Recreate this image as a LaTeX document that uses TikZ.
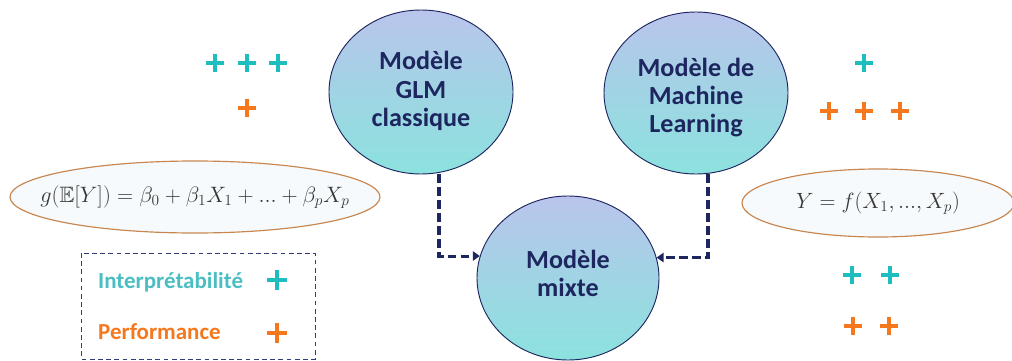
\documentclass[tikz,border=0pt]{standalone}
\usepackage{fontspec}
\usepackage{amssymb}
\usepackage{graphicx}
\setmainfont{Carlito}
\usetikzlibrary{shapes.geometric,arrows.meta}

\definecolor{navy}{RGB}{30,38,95}
\definecolor{ctop}{RGB}{186,196,236}
\definecolor{cmid}{RGB}{160,212,228}
\definecolor{cbot}{RGB}{140,226,222}
\definecolor{tealp}{RGB}{30,190,190}
\definecolor{tealt}{RGB}{75,190,195}
\definecolor{orangep}{RGB}{245,120,30}
\definecolor{ebord}{RGB}{200,135,80}
\definecolor{efill}{RGB}{246,250,252}
\definecolor{fgray}{RGB}{55,55,55}
\definecolor{boxline}{RGB}{50,60,120}

\tikzset{
  model/.style={ellipse, draw=navy, line width=0.8pt,
    top color=ctop, bottom color=cbot, middle color=cmid, inner sep=0pt},
  modeltext/.style={align=center, text=navy, inner sep=0pt,
    font=\bfseries\fontsize{22.3}{24}\selectfont},
  conn/.style={navy, line width=2.6pt, dash pattern=on 7.5pt off 3.5pt,
    -{Triangle[length=6pt,width=8pt]}},
  formula/.style={text=fgray, inner sep=0pt, font=\fontsize{17.28}{22}\selectfont},
  rim/.style={draw=ebord, line width=1pt, fill=efill},
  legtext/.style={anchor=west, inner sep=0pt,
    font=\bfseries\fontsize{19.6}{22}\selectfont},
  rateplus/.pic={\draw[line width=2.6pt] (-0.27cm,0)--(0.27cm,0) (0,-0.27cm)--(0,0.27cm);},
  bigplus/.pic={\draw[line width=2.6pt] (-0.31cm,0)--(0.31cm,0) (0,-0.31cm)--(0,0.31cm);}
}

\begin{document}
\begin{tikzpicture}[x=0.03cm,y=-0.03cm]
\useasboundingbox (0,0) rectangle (1012,360);

% the three models
\node[model, minimum width=5.52cm, minimum height=4.92cm] (glm) at (421,92) {};
\node[modeltext] (glmtext) at (421,91) {Modèle\\GLM\\classique};
\node[model, minimum width=5.52cm, minimum height=4.86cm] (ml) at (696,93) {};
\node[modeltext] (mltext) at (696,97.5) {Modèle de\\Machine\\Learning};
\node[model, minimum width=5.46cm, minimum height=4.92cm] (mixte) at (568,278) {};
\node[modeltext] (mixtetext) at (568,273) {Modèle\\mixte};

% both approaches feed the mixed model
\draw[conn] ([xshift=0.54cm]glm.south) |- (mixte.166.6);
\draw[conn] ([xshift=0.36cm]ml.south) |- (mixte.13.4);

% model equations, each inside a light ellipse
\path[rim] (195,197) ellipse (5.55cm and 1.08cm);
\node[formula] (eqglm) at (195,197)
  {\scalebox{1.1}{$g(\mathbb{E}[Y]) = \beta_0 + \beta_1 X_1 + ... + \beta_p X_p$}};
\path[rim] (878,203) ellipse (4.08cm and 1.02cm);
\node[formula] (eqml) at (878,203)
  {\scalebox{1.09}{$Y = f(X_1, ..., X_p)$}};

% ratings of the GLM
\pic[tealp] at (215,63) {rateplus};
\pic[tealp] at (247,63) {rateplus};
\pic[tealp] at (278,63) {rateplus};
\pic[orangep] at (247,108) {rateplus};

% ratings of machine learning
\pic[tealp] at (864,63) {rateplus};
\pic[orangep] at (829,111) {rateplus};
\pic[orangep] at (864,111) {rateplus};
\pic[orangep] at (900,111) {rateplus};

% ratings of the mixed model
\pic[tealp] at (852,275) {rateplus};
\pic[tealp] at (890,275) {rateplus};
\pic[orangep] at (853,326) {rateplus};
\pic[orangep] at (889,326) {rateplus};

% legend
\draw[boxline, line width=0.6pt, dash pattern=on 4pt off 3pt] (81,253) rectangle (315,359);
\node[legtext, text=tealt] (interp) at (98,282) {Interprétabilité};
\node[legtext, text=orangep] (perf) at (98,332) {Performance};
\pic[tealp] at (277,280) {bigplus};
\pic[orangep] at (277,333) {bigplus};
\end{tikzpicture}
\end{document}
